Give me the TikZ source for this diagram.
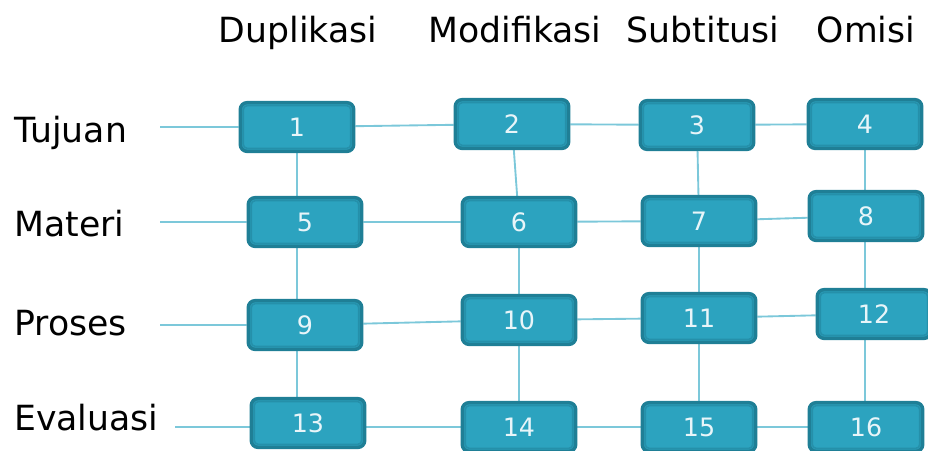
\documentclass[tikz,border=0pt]{standalone}
\usepackage{fontspec}
\setmainfont{DejaVu Sans}
\usetikzlibrary{backgrounds}
\definecolor{boxfill}{HTML}{2CA3BF}
\definecolor{boxedge}{HTML}{1F7F96}
\definecolor{boxinner}{HTML}{2590AA}
\definecolor{linkc}{HTML}{7CC8DA}
\definecolor{numc}{HTML}{E8F5F9}
\tikzset{
  cell/.style={draw=boxedge, fill=boxfill, line width=2.6pt, rounded corners=5pt,
    minimum width=85pt, minimum height=36.5pt, inner sep=0pt,
    text=numc, font=\fontsize{19}{22}\selectfont,
    path picture={\draw[boxinner, line width=1.2pt, rounded corners=3pt]
      ([shift={(2.2pt,2.2pt)}]path picture bounding box.south west) rectangle
      ([shift={(-2.2pt,-2.2pt)}]path picture bounding box.north east);}},
  link/.style={draw=linkc, line width=1.4pt},
  head/.style={anchor=base, font=\fontsize{26}{30}\selectfont, inner sep=0pt},
  rowlab/.style={anchor=base west, font=\fontsize{26}{30}\selectfont, inner sep=0pt}
}
\begin{document}
\begin{tikzpicture}[x=0.75pt, y=-0.75pt]
\useasboundingbox (0,0) rectangle (928,450);
\node[head] (h1) at (298,42) {Duplikasi};
\node[head] (h2) at (515,42) {Modifikasi};
\node[head] (h3) at (703,42) {Subtitusi};
\node[head] (h4) at (866,42) {Omisi};
\node[rowlab] (r1) at (14,142) {Tujuan};
\node[rowlab] (r2) at (14,236) {Materi};
\node[rowlab] (r3) at (14,335) {Proses};
\node[rowlab] (r4) at (14,430) {Evaluasi};

\node[cell] (n1) at (297,127) {1};
\node[cell] (n2) at (512,124) {2};
\node[cell] (n3) at (697,125) {3};
\node[cell] (n4) at (865,124) {4};
\node[cell] (n5) at (305,222) {5};
\node[cell] (n6) at (519,222) {6};
\node[cell] (n7) at (699,221) {7};
\node[cell] (n8) at (866,216) {8};
\node[cell] (n9) at (305,325) {9};
\node[cell] (n10) at (519,320) {10};
\node[cell] (n11) at (699,318) {11};
\node[cell] (n12) at (874,314) {12};
\node[cell] (n13) at (308,423) {13};
\node[cell] (n14) at (519,427) {14};
\node[cell] (n15) at (699,427) {15};
\node[cell] (n16) at (866,427) {16};

\coordinate (s1) at (160,127);
\coordinate (s2) at (160,222);
\coordinate (s3) at (160,325);
\coordinate (s4) at (175,427);

\begin{pgfonlayer}{background}
\draw[link] (s1) -- (n1) -- (n2) -- (n3) -- (n4);
\draw[link] (s2) -- (n5) -- (n6) -- (n7) -- (n8);
\draw[link] (s3) -- (n9) -- (n10) -- (n11) -- (n12);
\draw[link] (s4) -- (s4 -| n13) -- (n14) -- (n15) -- (n16);
\draw[link] (n1) -- (n1 |- n13);
\draw[link] (n2) -- (n6) -- (n10) -- (n14);
\draw[link] (n3) -- (n7) -- (n11) -- (n15);
\draw[link] (n4) -- (n4 |- n16);
\end{pgfonlayer}
\end{tikzpicture}
\end{document}
